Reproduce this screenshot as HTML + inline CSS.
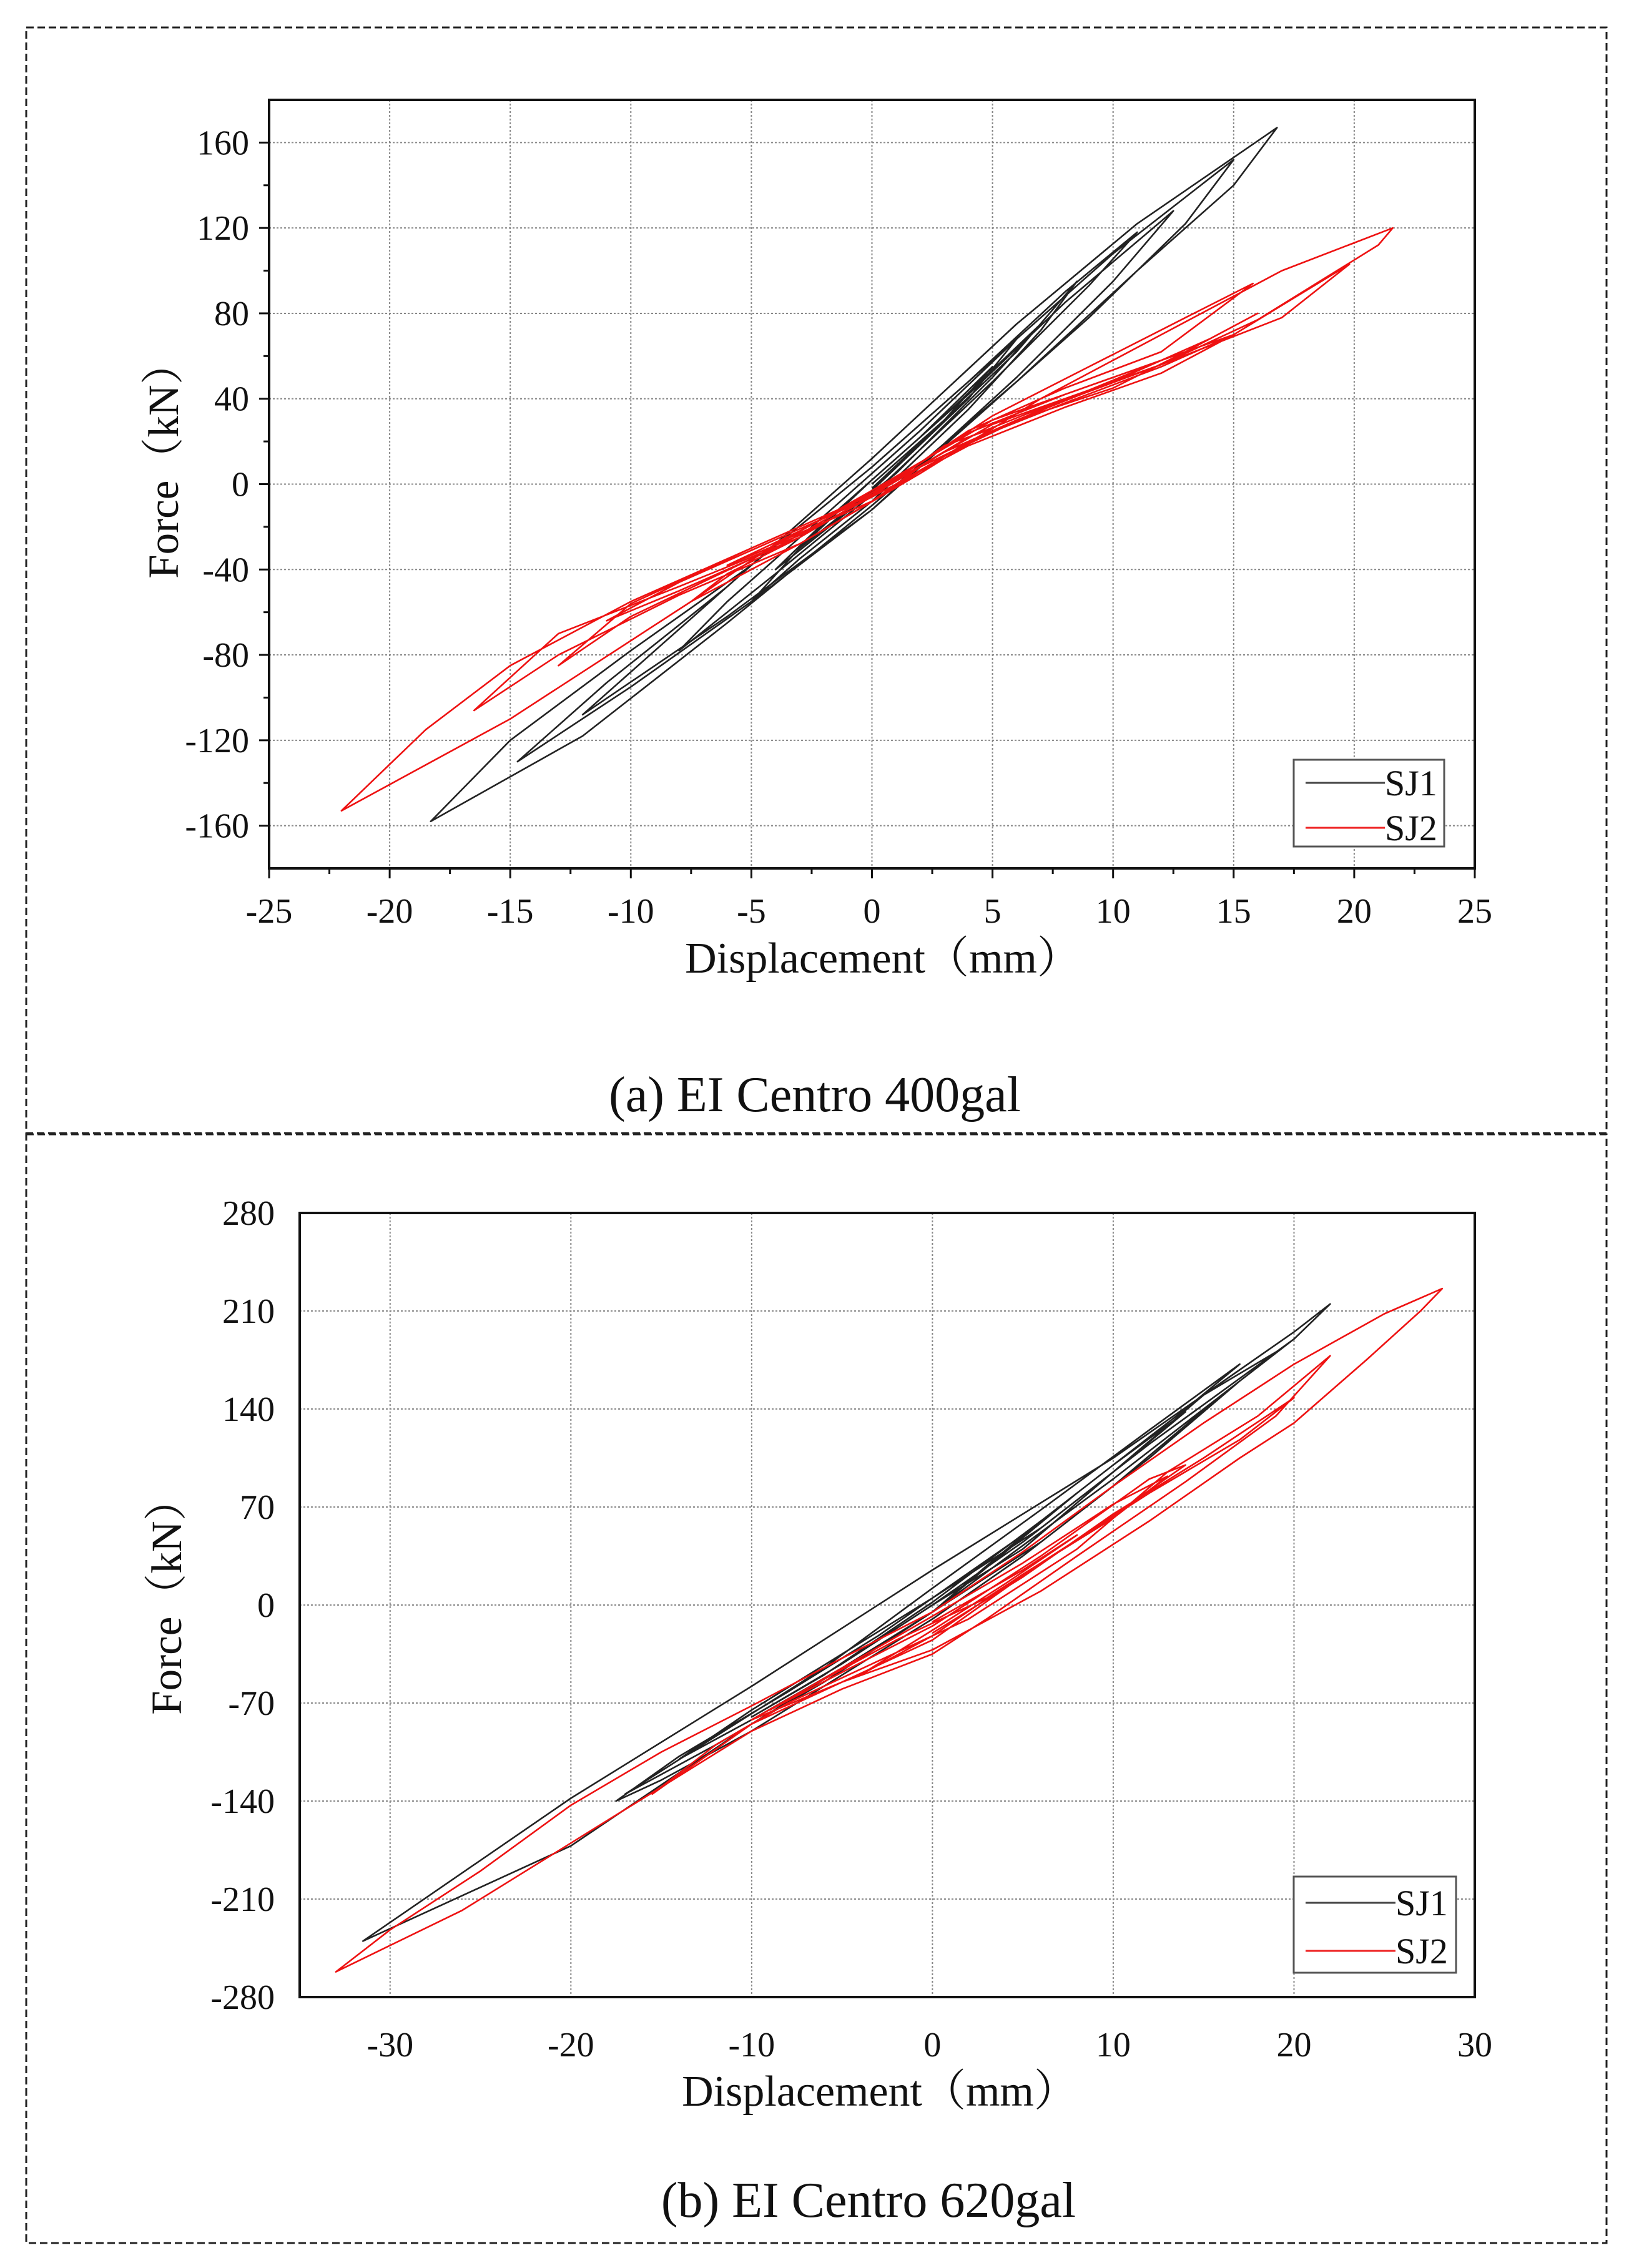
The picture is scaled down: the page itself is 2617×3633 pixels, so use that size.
<!DOCTYPE html>
<html><head><meta charset="utf-8"><style>
html,body{margin:0;padding:0;background:#fff;}
svg{display:block;}
text{font-family:"Liberation Serif","Noto Serif CJK SC",serif;fill:#111;}
</style></head><body>
<svg id="fig" width="2617" height="3633" viewBox="0 0 2617 3633" xmlns="http://www.w3.org/2000/svg">
<rect x="0" y="0" width="2617" height="3633" fill="#fff"/>
<rect x="42" y="44" width="2531" height="1771" fill="none" stroke="#222" stroke-width="3" stroke-dasharray="12,6"/>
<rect x="42" y="1817" width="2531" height="1776" fill="none" stroke="#222" stroke-width="3" stroke-dasharray="12,6"/>
<g id="chartA"></g>
<g id="chartB"></g>
<text x="1305" y="1780" font-size="80" text-anchor="middle">(a) EI Centro 400gal</text>
<text x="1391" y="3551" font-size="80" text-anchor="middle">(b) EI Centro 620gal</text>
</svg>
<script>
// ---- Chart A data ----
const xTicksA = [-25,-20,-15,-10,-5,0,5,10,15,20,25];
const yTicksA = [-160,-120,-80,-40,0,40,80,120,160];
const sj1a = [[0,0],[3,30],[6,62],[8.5,95],[7,72],[4,35],[0,-8],[-3,-35],[-5,-55],[-3,-30],[0,2],[4,42],[8,85],[12.5,128],[10,95],[6,50],[0,-12],[-6,-62],[-12,-108],[-9,-78],[-5,-38],[0,8],[5,58],[10,108],[15,152],[13,122],[9,78],[4,28],[0,-12],[-5,-55],[-10,-95],[-14.7,-130],[-11,-93],[-6,-48],[0,12],[6,75],[11,122],[16.8,167],[15,140],[11,100],[6,48],[0,-10],[-6,-65],[-12,-118],[-18.3,-158],[-15,-120],[-10,-78],[-5,-38],[0,8],[4,48],[8,90],[11,118],[9,93],[5,48],[0,-5],[-4,-42],[-8,-78],[-6,-55],[-2,-15],[2,25],[6,68],[4,40],[0,-3],[-3,-30],[-1,-8],[3,32],[7,75],[5,50],[1,5],[-2,-22],[-4,-40],[-2,-18],[2,22],[5,55],[3,30],[0,-2]];
const sj2a = [[0,-5],[3,15],[6,30],[10,45],[13,62],[16,80],[14,68],[10,48],[6,30],[2,8],[0,-8],[-4,-28],[-7.5,-55],[-6,-42],[-3,-25],[0,-5],[4,25],[8,45],[12,62],[15.8,94],[13,78],[9,55],[5,32],[0,-5],[-5,-30],[-10,-56],[-13,-85],[-10,-62],[-5,-35],[0,-3],[5,30],[10,50],[15,70],[19.8,103],[17,78],[12,56],[7,35],[2,8],[-3,-25],[-8,-48],[-13,-70],[-16.5,-106],[-13,-80],[-8,-52],[-3,-28],[2,5],[7,40],[12,70],[17,100],[21.6,120],[21,112],[19,98],[16,77],[12,56],[8,40],[4,22],[0,-5],[-5,-30],[-10,-55],[-15,-85],[-18.5,-115],[-22,-153],[-15,-110],[-7.5,-55],[-3,-28],[0,-8],[4,20],[8,38],[12,55],[15,70],[12,52],[8,36],[4,18],[0,-6],[-4,-26],[-8,-46],[-11,-64],[-8,-50],[-4,-30],[0,-4],[4,24],[8,42],[12,58],[9,44],[5,28],[1,2],[-3,-22],[-6,-38],[-3,-24],[1,0],[5,26],[3,18],[0,-6]];
// ---- Chart B data ----
const xTicksB = [-30,-20,-10,0,10,20,30];
const yTicksB = [-280,-210,-140,-70,0,70,140,210,280];
const sj1b = [[0,0],[5,40],[10,95],[15,150],[19.3,183],[16,150],[10,85],[5,35],[0,-10],[-5,-50],[-10,-90],[-15,-125],[-17.5,-140],[-14,-108],[-8,-62],[-3,-22],[0,5],[6,55],[12,115],[20,190],[17,160],[12,105],[6,45],[0,-5],[-6,-55],[-12,-100],[-17,-135],[-13,-102],[-6,-45],[0,12],[6,68],[12,125],[17,172],[14,140],[8,80],[0,-5],[-5,-45],[-10,-82],[-14,-110],[-10,-75],[-5,-35],[0,5],[5,50],[10,100],[14,138],[10,95],[5,45],[0,0],[-5,-42],[-10,-80],[-6,-50],[0,2],[6,60],[3,28],[0,-5],[-10,-85],[-20,-172],[-31.5,-240],[-20,-138],[-10,-58],[0,25],[10,105],[20,195],[22,215],[20,190],[15,140],[10,90],[0,-5]];
const sj2b = [[0,-20],[5,20],[10,65],[15,105],[20,148],[17,118],[12,80],[6,30],[0,-25],[-5,-55],[-10,-85],[-15.5,-135],[-12,-100],[-8,-70],[-3,-40],[2,-10],[8,40],[13,95],[18,135],[22,178],[19,135],[14,88],[8,35],[3,-10],[0,-35],[-5,-60],[-10,-90],[-15,-130],[-20,-170],[-26,-218],[-33,-262],[-30,-232],[-25,-190],[-20,-143],[-15,-105],[-10,-72],[-5,-38],[0,-5],[5,38],[10,85],[15,130],[20,172],[25,208],[28.2,226],[27,210],[24,175],[20,130],[17,105],[12,60],[6,10],[0,-32],[-5,-55],[-10,-82],[-7,-60],[-2,-25],[3,5],[9,55],[14,100],[12,90],[6,35],[0,-15],[-5,-48],[-9,-75],[-5,-45],[0,-8],[5,30],[10,72],[13,92],[10,62],[5,22],[0,-22],[-4,-50],[0,-18],[4,15],[8,50],[5,25],[0,-12]];

const NS='http://www.w3.org/2000/svg';
function mk(tag, attrs, parent){const e=document.createElementNS(NS,tag);for(const k in attrs)e.setAttribute(k,attrs[k]);parent.appendChild(e);return e;}

function drawChart(g, cfg){
  const {L,R,T,B,xmin,xmax,ymin,ymax,xTicks,yTicks,s1,s2,minor,ylabX,xlabY,xtitle,ytitle,leg} = cfg;
  const sx=v=>L+(v-xmin)/(xmax-xmin)*(R-L);
  const sy=v=>B-(v-ymin)/(ymax-ymin)*(B-T);
  xTicks.forEach(v=>{ if(v>xmin&&v<xmax){
    const l=mk('line',{x1:sx(v),x2:sx(v),y1:T,y2:B,stroke:'#888','stroke-width':2,'stroke-dasharray':'3,3'},g);
    
    
  }});
  yTicks.forEach(v=>{ if(v>ymin&&v<ymax){
    const l=mk('line',{x1:L,x2:R,y1:sy(v),y2:sy(v),stroke:'#888','stroke-width':2,'stroke-dasharray':'3,3'},g);
    
    
  }});
  if(minor){
    xTicks.forEach(v=>{const t=mk('line',{x1:sx(v),x2:sx(v),y1:B,y2:B+16,stroke:'#111','stroke-width':3},g);
      
      });
    for(let i=0;i<xTicks.length-1;i++){const m=(xTicks[i]+xTicks[i+1])/2;const t=mk('line',{x1:sx(m),x2:sx(m),y1:B,y2:B+9,stroke:'#111','stroke-width':3},g);
      
      }
    yTicks.forEach(v=>{const t=mk('line',{x1:L-16,x2:L,y1:sy(v),y2:sy(v),stroke:'#111','stroke-width':3},g);
      
      });
    for(let i=0;i<yTicks.length-1;i++){const m=(yTicks[i]+yTicks[i+1])/2;const t=mk('line',{x1:L-9,x2:L,y1:sy(m),y2:sy(m),stroke:'#111','stroke-width':3},g);
      
      }
  }
  [[s1,'#222','sj1-curve'],[s2,'#ee1111','sj2-curve']].forEach(([d,c,n])=>{
    const p=mk('polyline',{points:d.map(q=>sx(q[0]).toFixed(1)+','+sy(q[1]).toFixed(1)).join(' '),fill:'none',stroke:c,'stroke-width':2.6,'stroke-linejoin':'round'},g);
    
    
  });
  const f=mk('rect',{x:L,y:T,width:R-L,height:B-T,fill:'none',stroke:'#111','stroke-width':4},g);
  
  
  xTicks.forEach(v=>{const t=mk('text',{x:sx(v),y:xlabY,'font-size':56,'text-anchor':'middle'},g);t.textContent=String(v);
    
    });
  yTicks.forEach(v=>{const t=mk('text',{x:ylabX,y:sy(v)+19,'font-size':56,'text-anchor':'end'},g);t.textContent=String(v);
    
    });
  const xt=mk('text',{x:xtitle[0],y:xtitle[1],'font-size':70,'text-anchor':'middle'},g);xt.textContent='Displacement（mm）';
  
  
  const yt=mk('text',{x:0,y:0,'font-size':69,'text-anchor':'middle',transform:`translate(${ytitle[0]},${ytitle[1]}) rotate(-90)`},g);yt.textContent='Force（kN）';
  
  
  const lb=mk('rect',{x:leg.x,y:leg.y,width:leg.w,height:leg.h,fill:'#fff',stroke:'#555','stroke-width':3},g);
  
  
  [['SJ1','#444',leg.y1],['SJ2','#ee2222',leg.y2]].forEach(([n,c,yy])=>{
    const l=mk('line',{x1:leg.lx1,x2:leg.lx2,y1:yy,y2:yy,stroke:c,'stroke-width':3},g);
    
    
    const t=mk('text',{x:leg.tx,y:yy+20,'font-size':58},g);t.textContent=n;
    
    
  });
}
drawChart(document.getElementById('chartA'),{L:431,R:2362,T:160,B:1391,xmin:-25,xmax:25,ymin:-180,ymax:180,xTicks:xTicksA,yTicks:yTicksA,s1:sj1a,s2:sj2a,minor:true,ylabX:399,xlabY:1478,xtitle:[1414,1558],ytitle:[285,737],
  leg:{x:2072,y:1217,w:241,h:139,lx1:2091,lx2:2218,tx:2218,y1:1254,y2:1326}});
drawChart(document.getElementById('chartB'),{L:480,R:2362,T:1943,B:3199,xmin:-35,xmax:30,ymin:-280,ymax:280,xTicks:xTicksB,yTicks:yTicksB,s1:sj1b,s2:sj2b,minor:false,ylabX:440,xlabY:3294,xtitle:[1409,3373],ytitle:[290,2557],
  leg:{x:2072,y:3006,w:260,h:154,lx1:2091,lx2:2235,tx:2235,y1:3048,y2:3125}});
</script>
</body></html>
